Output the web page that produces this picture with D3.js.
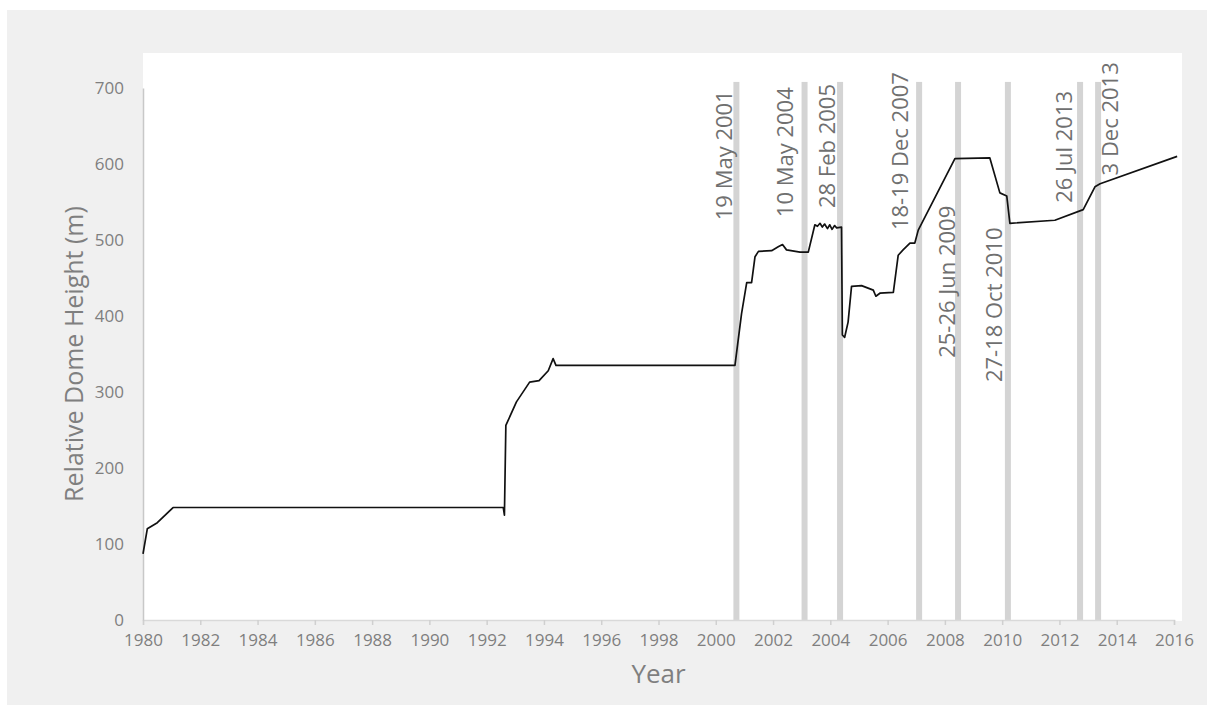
<!DOCTYPE html>
<html>
<head>
<meta charset="utf-8">
<script src="https://cdn.jsdelivr.net/npm/d3@7"></script>
<style>
  body { margin: 0; background: #fff; }
  text { font-family: "Open Sans", sans-serif; }
</style>
</head>
<body>
<svg id="viz"></svg>
<script>
// dome height series (year, metres)
const years = [1980.00, 1980.15, 1980.50, 1981.05, 1992.58, 1992.62, 1992.67, 1993.04, 1993.50, 1993.83,
  1994.15, 1994.32, 1994.42, 2000.67, 2000.90, 2001.08, 2001.25, 2001.37, 2001.49, 2001.95,
  2002.18, 2002.33, 2002.47, 2002.94, 2003.23, 2003.46, 2003.55, 2003.64, 2003.72, 2003.80,
  2003.90, 2003.98, 2004.06, 2004.15, 2004.22, 2004.39, 2004.42, 2004.50, 2004.62, 2004.74,
  2005.09, 2005.50, 2005.59, 2005.73, 2006.20, 2006.37, 2006.54, 2006.78, 2006.95, 2007.07,
  2008.35, 2009.57, 2009.92, 2010.16, 2010.27, 2011.84, 2012.83, 2013.24, 2013.42, 2016.11];
const heights = [87, 120, 128, 148, 148, 138, 256, 287, 313, 315,
  328, 344, 335, 335, 403, 444, 444, 478, 485, 486,
  491, 494, 487, 484, 484, 520, 518, 522, 517, 521,
  515, 520, 514, 519, 516, 517, 375, 372, 392, 439,
  440, 434, 426, 430, 431, 480, 487, 496, 496, 513,
  607, 608, 562, 558, 522, 526, 540, 570, 574, 610];

// eruption markers
const eventYears = [2000.72, 2003.10, 2004.34, 2007.10, 2008.46, 2010.20, 2012.72, 2013.35];
const eventLabels = ["19 May 2001", "10 May 2004", "28 Feb 2005", "18-19 Dec 2007",
  "25-26 Jun 2009", "27-18 Oct 2010", "26 Jul 2013", "3 Dec 2013"];
const labelYears = [2000.57, 2002.70, 2004.16, 2006.71, 2008.35, 2009.99, 2012.44, 2014.04];
const labelHeights = [526, 530, 542, 513, 345, 313, 549, 585];

const xTicks = d3.range(1980, 2017, 2);
const yTicks = [0, 100, 200, 300, 400, 500, 600, 700];

const W = 1207, H = 717;
const svg = d3.select("#viz").attr("width", W).attr("height", H);

const x = d3.scaleLinear().domain([1980, 2016]).range([143, 1174]);
const y = d3.scaleLinear().domain([0, 700]).range([620, 88]);

// backgrounds
svg.append("rect").attr("x", 7).attr("y", 10).attr("width", 1200).attr("height", 695).attr("fill", "#f0f0f0");
svg.append("rect").attr("x", 143).attr("y", 53).attr("width", 1039).attr("height", 568).attr("fill", "#fff");

// event bars
svg.selectAll("rect.ev")
  .data(eventYears)
  .enter()
  .append("rect")
  .attr("class", "ev")
  .attr("x", d => x(d) - 3)
  .attr("y", y(708))
  .attr("width", 6)
  .attr("height", y(0) - y(708))
  .attr("fill", "#d4d4d4");

// x axis
const xAxis = svg.append("g")
  .attr("transform", `translate(0,${y(0)})`)
  .call(d3.axisBottom(x).tickValues(xTicks).tickFormat(d3.format("d")).tickSize(5).tickPadding(9));
xAxis.select(".domain").attr("stroke", "#d9d9d9").attr("stroke-width", 1.5);
xAxis.selectAll(".tick line").attr("stroke", "#d0d0d0").attr("stroke-width", 1.5);
xAxis.selectAll("text").attr("font-size", 17).attr("fill", "#7f7f7f").attr("font-family", "Open Sans");

// y axis
const yAxis = svg.append("g")
  .attr("transform", `translate(${x(1980)},0)`)
  .call(d3.axisLeft(y).tickValues(yTicks).tickSize(0).tickPadding(19));
yAxis.select(".domain").attr("stroke", "#c8c8c8").attr("stroke-width", 1.5);
yAxis.selectAll("text").attr("font-size", 17).attr("fill", "#7f7f7f").attr("font-family", "Open Sans");

// series line
const pts = years.map((d, i) => [d, heights[i]]);
svg.append("path")
  .datum(pts)
  .attr("fill", "none")
  .attr("stroke", "#111")
  .attr("stroke-width", 1.7)
  .attr("stroke-linejoin", "round")
  .attr("d", d3.line().x(d => x(d[0])).y(d => y(d[1])));

// event labels
svg.selectAll("text.ev")
  .data(eventLabels)
  .enter()
  .append("text")
  .attr("class", "ev")
  .attr("transform", (d, i) => `translate(${x(labelYears[i])},${y(labelHeights[i])}) rotate(-90)`)
  .attr("font-size", 22)
  .attr("fill", "#707070")
  .text(d => d);

// axis titles
svg.append("text")
  .attr("x", (x(1980) + x(2016)) / 2)
  .attr("y", 683)
  .attr("text-anchor", "middle")
  .attr("font-size", 26)
  .attr("fill", "#7f7f7f")
  .text("Year");

svg.append("text")
  .attr("transform", `translate(83,${(y(0) + y(700)) / 2}) rotate(-90)`)
  .attr("text-anchor", "middle")
  .attr("font-size", 25)
  .attr("fill", "#7f7f7f")
  .text("Relative Dome Height (m)");
</script>
</body>
</html>
